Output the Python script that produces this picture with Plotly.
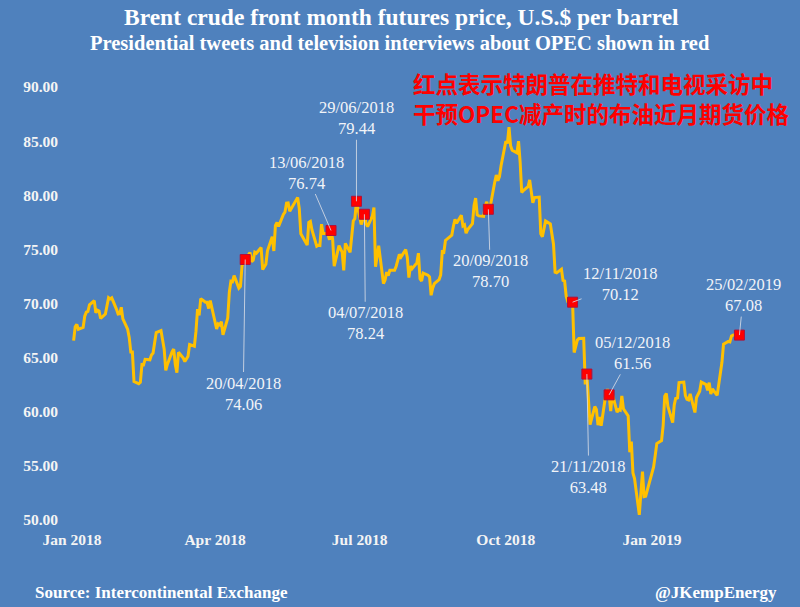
import plotly.graph_objects as go

# ---------------- data ----------------
dates = [
 "2018-01-02","2018-01-03","2018-01-04","2018-01-05","2018-01-08","2018-01-09","2018-01-10","2018-01-11","2018-01-12","2018-01-15","2018-01-16","2018-01-17","2018-01-18","2018-01-19","2018-01-22","2018-01-23","2018-01-24","2018-01-25","2018-01-26","2018-01-29","2018-01-30","2018-01-31",
 "2018-02-01","2018-02-02","2018-02-05","2018-02-06","2018-02-07","2018-02-08","2018-02-09","2018-02-12","2018-02-13","2018-02-14","2018-02-15","2018-02-16","2018-02-19","2018-02-20","2018-02-21","2018-02-22","2018-02-23","2018-02-26","2018-02-27","2018-02-28",
 "2018-03-01","2018-03-02","2018-03-05","2018-03-06","2018-03-07","2018-03-08","2018-03-09","2018-03-12","2018-03-13","2018-03-14","2018-03-15","2018-03-16","2018-03-19","2018-03-20","2018-03-21","2018-03-22","2018-03-23","2018-03-26","2018-03-27","2018-03-28","2018-03-29",
 "2018-04-02","2018-04-03","2018-04-04","2018-04-05","2018-04-06","2018-04-09","2018-04-10","2018-04-11","2018-04-12","2018-04-13","2018-04-16","2018-04-17","2018-04-18","2018-04-19","2018-04-20","2018-04-23","2018-04-24","2018-04-25","2018-04-26","2018-04-27","2018-04-30",
 "2018-05-01","2018-05-02","2018-05-03","2018-05-04","2018-05-07","2018-05-08","2018-05-09","2018-05-10","2018-05-11","2018-05-14","2018-05-15","2018-05-16","2018-05-17","2018-05-18","2018-05-21","2018-05-22","2018-05-23","2018-05-24","2018-05-25","2018-05-29","2018-05-30","2018-05-31",
 "2018-06-01","2018-06-04","2018-06-05","2018-06-06","2018-06-07","2018-06-08","2018-06-11","2018-06-12","2018-06-13","2018-06-14","2018-06-15","2018-06-18","2018-06-19","2018-06-20","2018-06-21","2018-06-22","2018-06-25","2018-06-26","2018-06-27","2018-06-28","2018-06-29",
 "2018-07-02","2018-07-03","2018-07-04","2018-07-05","2018-07-06","2018-07-09","2018-07-10","2018-07-11","2018-07-12","2018-07-13","2018-07-16","2018-07-17","2018-07-18","2018-07-19","2018-07-20","2018-07-23","2018-07-24","2018-07-25","2018-07-26","2018-07-27","2018-07-30","2018-07-31",
 "2018-08-01","2018-08-02","2018-08-03","2018-08-06","2018-08-07","2018-08-08","2018-08-09","2018-08-10","2018-08-13","2018-08-14","2018-08-15","2018-08-16","2018-08-17","2018-08-20","2018-08-21","2018-08-22","2018-08-23","2018-08-24","2018-08-27","2018-08-28","2018-08-29","2018-08-30","2018-08-31",
 "2018-09-03","2018-09-04","2018-09-05","2018-09-06","2018-09-07","2018-09-10","2018-09-11","2018-09-12","2018-09-13","2018-09-14","2018-09-17","2018-09-18","2018-09-19","2018-09-20","2018-09-21","2018-09-24","2018-09-25","2018-09-26","2018-09-27","2018-09-28",
 "2018-10-01","2018-10-02","2018-10-03","2018-10-04","2018-10-05","2018-10-08","2018-10-09","2018-10-10","2018-10-11","2018-10-12","2018-10-15","2018-10-16","2018-10-17","2018-10-18","2018-10-19","2018-10-22","2018-10-23","2018-10-24","2018-10-25","2018-10-26","2018-10-29","2018-10-30","2018-10-31",
 "2018-11-01","2018-11-02","2018-11-05","2018-11-06","2018-11-07","2018-11-08","2018-11-09","2018-11-12","2018-11-13","2018-11-14","2018-11-15","2018-11-16","2018-11-19","2018-11-20","2018-11-21","2018-11-23","2018-11-26","2018-11-27","2018-11-28","2018-11-29","2018-11-30",
 "2018-12-03","2018-12-04","2018-12-05","2018-12-06","2018-12-07","2018-12-10","2018-12-11","2018-12-12","2018-12-13","2018-12-14","2018-12-17","2018-12-18","2018-12-19","2018-12-20","2018-12-21","2018-12-24","2018-12-26","2018-12-27","2018-12-28","2018-12-31",
 "2019-01-02","2019-01-03","2019-01-04","2019-01-07","2019-01-08","2019-01-09","2019-01-10","2019-01-11","2019-01-14","2019-01-15","2019-01-16","2019-01-17","2019-01-18","2019-01-21","2019-01-22","2019-01-23","2019-01-24","2019-01-25","2019-01-28","2019-01-29","2019-01-30","2019-01-31",
 "2019-02-01","2019-02-04","2019-02-05","2019-02-06","2019-02-07","2019-02-08","2019-02-11","2019-02-12","2019-02-13","2019-02-14","2019-02-15","2019-02-18","2019-02-19","2019-02-20","2019-02-21","2019-02-22","2019-02-25",
]
prices = [
 66.57,67.84,68.07,67.62,67.78,68.82,69.20,69.26,69.87,70.26,69.15,69.38,69.31,68.61,69.03,69.96,70.53,70.42,70.52,69.46,69.02,69.05,
 69.65,68.58,67.62,66.86,65.51,65.51,62.79,62.59,62.72,64.36,64.33,64.84,64.80,65.25,65.42,66.39,67.31,67.50,66.63,65.78,
 63.83,64.37,65.54,65.79,64.34,63.61,65.49,64.95,64.64,64.89,65.12,66.21,66.05,67.42,69.47,68.91,70.45,70.12,70.11,69.53,70.27,
 67.64,68.12,68.02,68.33,67.11,68.65,71.04,72.06,72.02,72.58,71.42,71.58,73.48,73.78,74.06,74.71,73.86,74.00,74.74,74.64,75.17,
 73.13,73.36,73.62,74.87,76.17,74.85,77.21,77.47,77.12,78.23,78.43,79.28,79.30,78.51,79.22,79.57,79.80,78.79,76.44,75.39,77.50,77.59,
 76.79,75.29,75.38,75.36,77.32,76.46,76.46,75.88,76.74,75.94,73.44,75.34,75.08,74.74,73.05,75.55,74.73,76.31,77.62,77.85,79.44,
 77.30,77.76,78.24,77.39,77.11,78.07,78.86,73.40,74.45,75.33,71.84,72.16,72.90,72.58,73.07,73.06,73.44,73.93,74.54,74.29,74.97,74.25,
 72.39,73.45,73.21,73.75,74.65,72.28,72.07,72.81,72.61,72.46,70.76,71.43,71.83,72.21,72.63,74.78,74.73,75.82,76.21,76.31,77.14,77.77,77.42,
 78.15,77.17,77.27,76.50,76.83,77.37,79.06,79.74,78.18,78.09,78.05,79.03,79.40,78.70,78.80,81.20,81.87,81.34,81.72,82.72,
 84.98,84.80,86.29,84.58,84.16,83.91,85.00,83.09,80.26,80.43,80.78,81.41,80.05,79.29,79.78,79.83,76.44,76.17,76.89,77.62,77.34,76.31,75.47,
 72.89,72.83,73.17,72.13,72.07,70.65,70.18,70.12,65.47,66.12,66.62,66.76,66.79,62.53,63.48,58.80,60.48,60.21,58.76,59.51,58.71,
 61.69,62.08,61.56,60.06,61.67,59.97,60.20,60.15,61.45,60.28,59.61,56.26,57.24,54.35,53.82,50.47,54.47,52.16,52.20,53.80,
 54.91,55.95,57.06,57.33,58.72,61.44,61.68,60.48,58.99,60.64,61.32,61.18,62.70,62.74,61.50,61.14,61.09,61.64,59.93,61.32,61.65,61.89,
 62.75,62.51,61.98,62.69,61.63,62.10,61.51,62.42,63.61,64.57,66.25,66.50,66.45,67.00,67.07,67.12,67.08,
]

event_dates = ["2018-04-20","2018-06-13","2018-06-29","2018-07-04","2018-09-20",
               "2018-11-12","2018-11-21","2018-12-05","2019-02-25"]
event_values = [74.06, 76.74, 79.44, 78.24, 78.70, 70.12, 63.48, 61.56, 67.08]
event_labels = ["20/04/2018","13/06/2018","29/06/2018","04/07/2018","20/09/2018",
                "12/11/2018","21/11/2018","05/12/2018","25/02/2019"]

tick_dates = ["2018-01-01","2018-04-01","2018-07-01","2018-10-01","2019-01-01"]
tick_texts = ["Jan 2018","Apr 2018","Jul 2018","Oct 2018","Jan 2019"]
y_ticks = [50, 55, 60, 65, 70, 75, 80, 85, 90]

# ---------------- styling ----------------
BG = "#4f81bd"
SERIF = "Liberation Serif, Times New Roman, serif"
W, H = 800, 607
PL, PR, PT, PB = 65, 790, 60, 526

def px_x(px):
    return (px - PL) / (PR - PL)

def px_y(py):
    return (PB - py) / (PB - PT)

# label offsets (pixels, text centre relative to marker)
label_offsets = [(-2, 134), (-25, -58), (0, -83), (1, 109), (2, 62),
                 (48, -18), (2, 103), (23, -42), (4, -40)]

fig = go.Figure()
fig.add_trace(go.Scatter(x=dates, y=prices, mode="lines",
                         line=dict(color="#ffc000", width=3),
                         hoverinfo="skip", showlegend=False))
fig.add_trace(go.Scatter(x=event_dates, y=event_values, mode="markers",
                         marker=dict(symbol="square", size=10, color="#ff0000",
                                     line=dict(color="#b0103a", width=1)),
                         showlegend=False))

annotations = []
for d, v, lab, (ox, oy) in zip(event_dates, event_values, event_labels, label_offsets):
    annotations.append(dict(
        x=d, y=v, xref="x", yref="y", text=f"{lab}<br>{v:.2f}",
        showarrow=True, arrowhead=0, arrowwidth=1, arrowcolor="rgba(215,220,230,0.85)",
        ax=ox, ay=oy, font=dict(family=SERIF, size=16.5, color="#f2f4f8"),
        align="center"))

annotations += [
    dict(text="<b>Brent crude front month futures price, U.S.$ per barrel</b>",
         x=px_x(401), y=px_y(17), xref="paper", yref="paper", showarrow=False,
         xanchor="center", yanchor="middle",
         font=dict(family=SERIF, size=23.5, color="white")),
    dict(text="<b>Presidential tweets and television interviews about OPEC shown in red</b>",
         x=px_x(400), y=px_y(43), xref="paper", yref="paper", showarrow=False,
         xanchor="center", yanchor="middle",
         font=dict(family=SERIF, size=20.5, color="white")),
    dict(text="<b>红点表示特朗普在推特和电视采访中</b>",
         x=px_x(411), y=px_y(83), xref="paper", yref="paper", showarrow=False,
         xanchor="left", yanchor="middle",
         font=dict(family="Noto Sans CJK SC", size=22.5, color="#ff0000")),
    dict(text="<b>干预OPEC减产时的布油近月期货价格</b>",
         x=px_x(411), y=px_y(113), xref="paper", yref="paper", showarrow=False,
         xanchor="left", yanchor="middle",
         font=dict(family="Noto Sans CJK SC", size=22.5, color="#ff0000")),
    dict(text="<b>Source: Intercontinental Exchange</b>",
         x=px_x(33), y=px_y(592), xref="paper", yref="paper", showarrow=False,
         xanchor="left", yanchor="middle",
         font=dict(family=SERIF, size=17, color="white")),
    dict(text="<b>@JKempEnergy</b>",
         x=px_x(779), y=px_y(592), xref="paper", yref="paper", showarrow=False,
         xanchor="right", yanchor="middle",
         font=dict(family=SERIF, size=17, color="white")),
]

fig.update_layout(
    width=W, height=H, autosize=False,
    margin=dict(l=PL, r=W - PR, t=PT, b=H - PB, pad=0),
    paper_bgcolor=BG, plot_bgcolor=BG,
    annotations=annotations,
    showlegend=False,
    xaxis=dict(type="date", range=["2017-12-27 14:00", "2019-03-28 20:00"],
               tickvals=tick_dates, ticktext=[f"<b>{t}</b>" for t in tick_texts],
               showgrid=False, zeroline=False, showline=False, ticks="",
               tickfont=dict(family=SERIF, size=15.5, color="#f4f4f4"),
               ticklabelstandoff=2),
    yaxis=dict(range=[50 - (PB - 520) / 10.83, 92.49], tickvals=y_ticks,
               ticktext=[f"<b>{t:.2f}</b>" for t in y_ticks],
               showgrid=False, zeroline=False, showline=False, ticks="",
               tickfont=dict(family=SERIF, size=15.5, color="#f4f4f4"),
               ticklabelstandoff=6),
)

fig.write_html("out.html")
